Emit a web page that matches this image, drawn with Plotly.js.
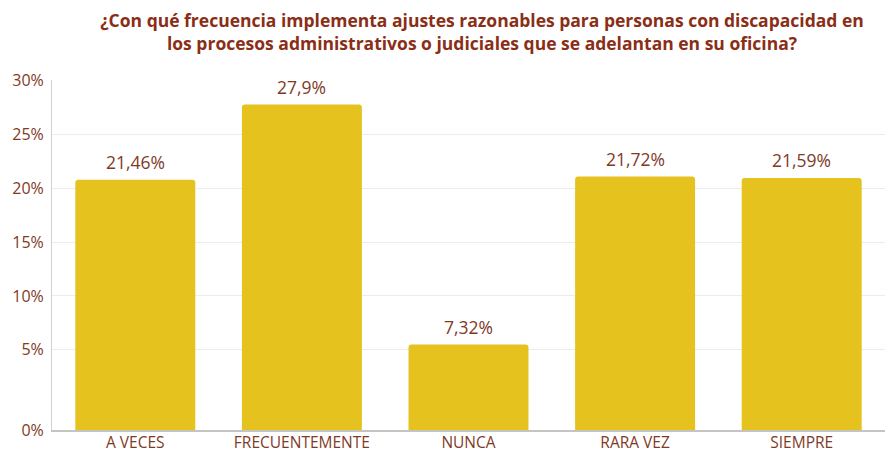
<!DOCTYPE html>
<html>
<head>
<meta charset="utf-8">
<script src="https://cdn.plot.ly/plotly-3.0.1.min.js"></script>
<style>
  html, body { margin: 0; padding: 0; background: #fff; }
  #chart { width: 891px; height: 454px; }
</style>
</head>
<body>
<div id="chart"></div>
<script>
const categories = ["A VECES", "FRECUENTEMENTE", "NUNCA", "RARA VEZ", "SIEMPRE"];
const percents = [21.46, 27.9, 7.32, 21.72, 21.59];
// the source chart places its gridlines unevenly; these are where they sit
const tickPositions = [0, 6.94, 11.49, 16.11, 20.74, 25.37, 30];
const tickLabels = ["0%", "5%", "10%", "15%", "20%", "25%", "30%"];

const brown = "#7f3a26";
const font = "'Open Sans', sans-serif";
const fmt = v => v.toString().replace(".", ",") + "%";

const trace = {
  type: "bar",
  x: categories,
  y: percents,
  marker: { color: "#e5c21e", cornerradius: 3 },
  hoverinfo: "skip"
};

const labels = categories.map((c, i) => ({
  x: c,
  y: percents[i],
  text: fmt(percents[i]),
  showarrow: false,
  yanchor: "bottom",
  yshift: 4,
  font: { family: font, size: 17.5, color: brown }
}));

const layout = {
  width: 891,
  height: 454,
  margin: { l: 52, r: 6, t: 80, b: 24 },
  paper_bgcolor: "#fff",
  plot_bgcolor: "#fff",
  bargap: 0.28,
  showlegend: false,
  title: {
    text: "¿Con qué frecuencia implementa ajustes razonables para personas con discapacidad en<br>los procesos administrativos o judiciales que se adelantan en su oficina?",
    x: 0.541,
    xanchor: "center",
    y: 0.94,
    yanchor: "top",
    font: { family: font, size: 17.5, color: "#8a2e16", weight: "bold" }
  },
  xaxis: {
    showgrid: false,
    showline: true,
    linecolor: "#c4c4c4",
    linewidth: 1.5,
    ticks: "",
    ticklabelstandoff: -2,
    tickfont: { family: font, size: 15.5, color: brown }
  },
  yaxis: {
    range: [0, 30],
    tickvals: tickPositions,
    ticktext: tickLabels,
    showgrid: true,
    gridcolor: "#ececec",
    zeroline: false,
    showline: true,
    linecolor: "#d0d0d0",
    ticks: "",
    ticklabelstandoff: 4,
    tickfont: { family: font, size: 16, color: brown }
  },
  annotations: labels
};

Plotly.newPlot("chart", [trace], layout, { displayModeBar: false, staticPlot: true });
</script>
</body>
</html>
